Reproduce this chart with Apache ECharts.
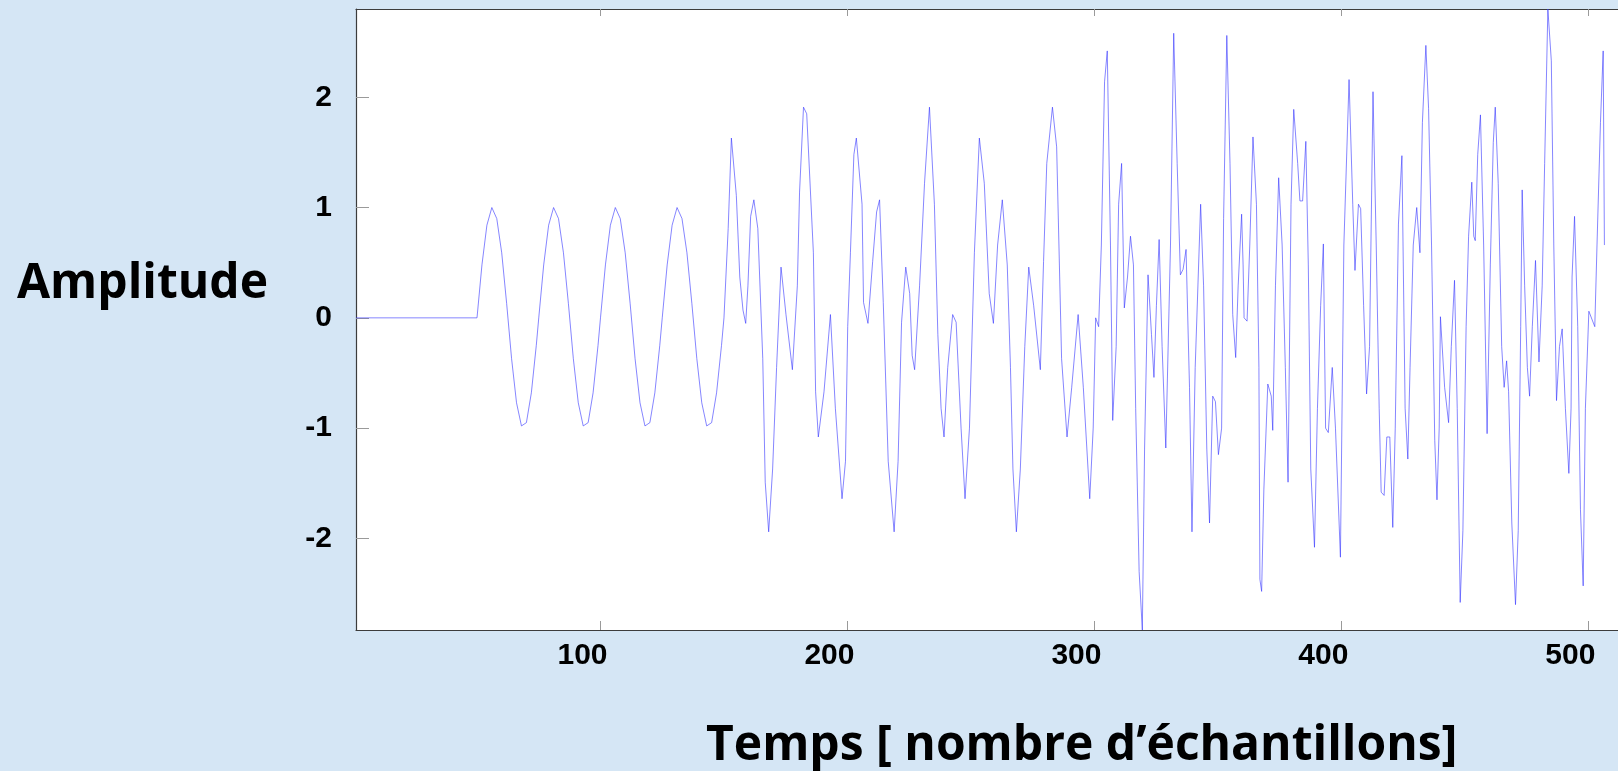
<!DOCTYPE html>
<html>
<head>
<meta charset="utf-8">
<title>Amplitude</title>
<script src="https://cdn.jsdelivr.net/npm/echarts@6/dist/echarts.min.js"></script>
<style>
  html, body { margin: 0; padding: 0; background: #d5e6f5; }
  #chart { width: 1618px; height: 771px; }
</style>
</head>
<body>
<div id="chart"></div>
<script>
// Sample positions (x) and signal amplitude (y) of the recorded signal
const sampleIndex = [
  1, 50,
  52, 54, 56, 58, 60, 62, 64, 66, 68, 70, 72, 74,
  75, 77, 79, 81, 83, 85, 87, 89, 91, 93, 95, 97, 99,
  100, 102, 104, 106, 108, 110, 112, 114, 116, 118, 120, 122, 124,
  125, 127, 129, 131, 133, 135, 137, 139, 141, 143, 145, 147, 149,
  150, 151.7, 153.0, 155.0, 156.4, 157.7, 158.8, 159.7, 160.8, 162.1, 163.7, 165.7, 166.7, 168.1, 169.7,
  171.3, 173.1, 175.1, 177.7, 179.7, 180.6, 182.2, 183.5, 186.2, 187.1, 188.2, 190.5, 193.1, 195.1, 197.8, 199.2,
  200.1, 201.2, 202.6, 203.6, 205.9, 206.5, 208.3, 210.2, 211.8, 213.0, 214.5, 216.5, 218.9, 220.5, 221.9,
  223.6, 225.2, 226.2, 227.2, 229.2, 231.2, 233.2, 235.2, 236.6, 237.9, 239.1, 240.6, 242.6, 244.0, 246.0, 247.6, 249.4,
  251.4, 253.4, 255.4, 257.4, 259.1, 260.8, 262.7, 264.7, 266.0, 267.0, 268.4, 270.0, 271.8, 273.4, 275.4, 278.1, 279.4,
  280.7, 283.0, 284.7, 286.7, 288.9, 290.8, 293.4, 295.5, 298.1, 299.5,
  300.5, 301.7, 302.8, 304.1, 305.2, 306.5, 307.4, 308.8, 309.8, 311.0, 312.1, 313.4, 314.6, 315.8, 316.7, 318.1, 319.4,
  320.3, 321.7, 323.1, 324.1, 325.1, 326.2, 327.4, 328.9, 330.8, 332.1, 333.5, 334.8, 335.9, 337.1, 338.5, 339.5,
  340.8, 343.0, 344.2, 345.5, 346.6, 347.9, 349.0, 350.2, 351.5, 352.3, 353.6, 354.9, 356.0, 357.2, 358.2, 359.6,
  360.2, 360.6, 361.8, 362.9, 364.2, 365.6, 366.6, 367.0, 367.7, 368.6, 370.2, 371.6, 372.2, 373.3, 374.6, 376.0, 377.3, 378.4, 379.6,
  380.7, 382.3, 383.2, 384.3, 385.6, 386.6, 387.6, 389.1, 390.3, 391.6, 392.7, 393.6, 394.7, 396.3, 397.6, 399.6,
  401.0, 403.1, 404.6, 405.5, 406.9, 407.8, 409.0, 410.2, 411.4, 412.8, 414.1, 415.3, 416.1, 417.3, 418.4, 419.6,
  420.8, 421.8, 423.1, 424.5, 425.8, 426.9, 427.8, 429.1, 430.5, 431.8, 432.8, 434.2, 435.3, 436.5, 437.8, 438.7, 439.6,
  440.1, 440.9, 441.8, 443.4, 444.5, 445.8, 446.9, 448.1, 449.2, 450.5, 451.5, 452.8, 453.6, 454.2, 455.2, 456.3, 457.6, 459.0,
  460.3, 461.5, 462.3, 463.5, 464.9, 465.9, 466.9, 467.7, 469.0, 470.5, 471.6, 472.6, 473.2, 474.2, 475.3, 476.2, 477.3, 478.6,
  480.0, 481.3, 482.3, 483.6, 485.0, 486.0, 487.1, 488.3, 489.4, 490.7, 492.1, 493.0, 493.4, 494.4, 495.7, 496.8, 497.9, 498.8,
  500.2, 502.6, 503.5, 504.9, 506.0, 506.5
];
const amplitude = [
  0, 0,
  0.48, 0.84, 1.00, 0.90, 0.59, 0.13, -0.37, -0.77, -0.98, -0.95, -0.68, -0.25,
  0, 0.48, 0.84, 1.00, 0.90, 0.59, 0.13, -0.37, -0.77, -0.98, -0.95, -0.68, -0.25,
  0, 0.48, 0.84, 1.00, 0.90, 0.59, 0.13, -0.37, -0.77, -0.98, -0.95, -0.68, -0.25,
  0, 0.48, 0.84, 1.00, 0.90, 0.59, 0.13, -0.37, -0.77, -0.98, -0.95, -0.68, -0.25,
  0.0, 0.81, 1.63, 1.11, 0.37, 0.07, -0.05, 0.29, 0.92, 1.07, 0.81, -0.37, -1.49, -1.94, -1.37,
  -0.45, 0.46, 0.03, -0.47, 0.29, 1.14, 1.91, 1.85, 0.59, -0.67, -1.08, -0.67, 0.03, -0.82, -1.64, -1.30,
  -0.08, 0.59, 1.48, 1.63, 1.03, 0.14, -0.05, 0.51, 0.96, 1.07, 0.14, -1.30, -1.94, -1.30, -0.04,
  0.46, 0.22, -0.34, -0.47, 0.29, 1.22, 1.91, 1.03, -0.15, -0.82, -1.08, -0.45, 0.03, -0.04, -1.00, -1.64, -1.00,
  0.59, 1.63, 1.22, 0.22, -0.05, 0.66, 1.07, 0.48, -0.45, -1.37, -1.94, -1.37, -0.26, 0.46, 0.11, -0.47, 0.51,
  1.40, 1.91, 1.55, -0.37, -1.08, -0.63, 0.03, -0.63, -1.64, -1.00,
  0.0, -0.08, 0.66, 2.14, 2.42, 0.66, -0.93, -0.26, 1.03, 1.40, 0.09, 0.37, 0.74, 0.48, -0.82, -2.30, -2.83,
  -1.19, 0.39, -0.15, -0.54, 0.11, 0.71, -0.26, -1.18, 0.66, 2.58, 1.40, 0.39, 0.44, 0.62, -0.63, -1.94,
  -0.45, 1.03, 0.29, -1.19, -1.86, -0.71, -0.76, -1.24, -1.00, 0.90, 2.56, 1.40, 0.03, -0.36, 0.29, 0.94,
  0.48, 0.0, -0.03, 0.66, 1.64, 1.03, -0.45, -2.37, -2.48, -1.56, -0.60, -0.71, -1.02, 0.29, 1.27, 0.66, -0.45, -1.49, 1.03,
  1.89, 1.40, 1.06, 1.06, 1.60, 0.48, -1.37, -2.08, -0.82, 0.11, 0.67, -1.00, -1.04, -0.45, -1.00, -2.17,
  0.66, 2.16, 1.03, 0.43, 1.03, 0.99, 0.11, -0.69, -0.26, 2.05, 0.66, -0.82, -1.58, -1.61, -1.08, -1.08,
  -1.90, -1.00, 0.85, 1.47, -0.82, -1.28, -0.45, 0.66, 1.00, 0.59, 1.77, 2.47, 1.90, 0.66, -1.11, -1.65, -1.00,
  0.01, 0.0, -0.63, -0.95, -0.26, 0.34, -0.82, -2.58, -1.93, -0.08, 0.74, 1.23, 0.74, 0.70, 1.48, 1.84, 0.66, -1.05,
  0.48, 1.59, 1.91, 1.22, -0.26, -0.63, -0.39, -0.67, -1.86, -2.60, -1.93, -0.08, 1.16, 0.29, -0.45, -0.71, -0.08, 0.52,
  -0.40, 0.29, 1.40, 2.80, 2.33, 0.66, -0.75, -0.26, -0.10, -0.82, -1.41, -0.82, 0.37, 0.92, -0.08, -1.74, -2.43, -0.82,
  0.06, -0.08, 0.66, 1.77, 2.42, 0.66
];
// Axis extent and tick positions
const xRange = [1, 512];
const yRange = [-2.83, 2.80];
const xTickValues = [100, 200, 300, 400, 500];
const yTickValues = [-2, -1, 0, 1, 2];
const yAxisTitle = 'Amplitude';
const xAxisTitle = 'Temps [ nombre d\u2019\u00e9chantillons]';

const points = sampleIndex.map((n, i) => [n, amplitude[i]]);

const chart = echarts.init(document.getElementById('chart'), null, { renderer: 'canvas' });

const tickFont = {
  fontFamily: '"Liberation Sans", Arial, sans-serif',
  fontWeight: 'bold',
  fontSize: 30,
  color: '#000'
};

chart.setOption({
  animation: false,
  backgroundColor: '#d5e6f5',
  grid: {
    left: 356,
    right: -14,
    top: 9,
    bottom: 141,
    show: true,
    backgroundColor: '#ffffff',
    borderWidth: 0
  },
  xAxis: [
    {
      type: 'value',
      min: xRange[0],
      max: xRange[1],
      position: 'bottom',
      axisLine: { show: true, onZero: false, lineStyle: { color: '#3c3c3c', width: 1.2 } },
      axisTick: { show: true, inside: true, length: 9, customValues: xTickValues, lineStyle: { color: '#9a9a9a', width: 1 } },
      axisLabel: Object.assign({ customValues: xTickValues, margin: 11, padding: [0, 36, 0, 0] }, tickFont),
      splitLine: { show: false }
    },
    {
      type: 'value',
      min: xRange[0],
      max: xRange[1],
      position: 'top',
      axisLine: { show: true, onZero: false, lineStyle: { color: '#3c3c3c', width: 1.2 } },
      axisTick: { show: true, inside: true, length: 7, customValues: xTickValues, lineStyle: { color: '#9a9a9a', width: 1 } },
      axisLabel: { show: false },
      splitLine: { show: false }
    }
  ],
  yAxis: {
    type: 'value',
    min: yRange[0],
    max: yRange[1],
    position: 'left',
    axisLine: { show: true, onZero: false, lineStyle: { color: '#3c3c3c', width: 1.2 } },
    axisTick: { show: true, inside: true, length: 13, customValues: yTickValues, lineStyle: { color: '#9a9a9a', width: 1 } },
    axisLabel: Object.assign({ customValues: yTickValues, margin: 24 }, tickFont),
    splitLine: { show: false }
  },
  series: [
    {
      type: 'line',
      data: points,
      showSymbol: false,
      symbol: 'none',
      xAxisIndex: 0,
      lineStyle: { color: '#3434ff', width: 0.6 },
      z: 3
    }
  ],
  graphic: [
    {
      type: 'text',
      left: 17,
      top: 260,
      style: {
        text: yAxisTitle,
        fontFamily: '"Open Sans", "DejaVu Sans", sans-serif',
        fontWeight: 'bold',
        fontSize: 48,
        fill: '#000'
      }
    },
    {
      type: 'text',
      left: 706,
      top: 722,
      style: {
        text: xAxisTitle,
        fontFamily: '"Open Sans", "DejaVu Sans", sans-serif',
        fontWeight: 'bold',
        fontSize: 48,
        fill: '#000'
      }
    }
  ]
});
</script>
</body>
</html>
